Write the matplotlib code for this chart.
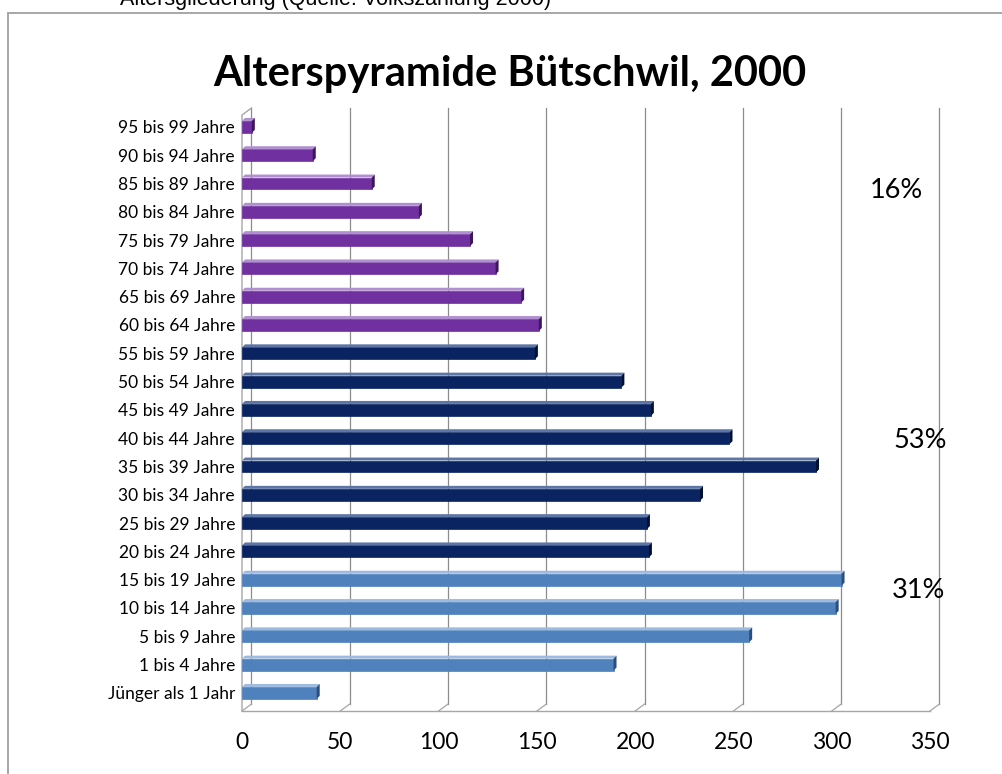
import matplotlib.pyplot as plt
from matplotlib.patches import Polygon, Rectangle

# Altersgruppen von unten nach oben
labels = ["Jünger als 1 Jahr", "1 bis 4 Jahre", "5 bis 9 Jahre", "10 bis 14 Jahre",
          "15 bis 19 Jahre", "20 bis 24 Jahre", "25 bis 29 Jahre", "30 bis 34 Jahre",
          "35 bis 39 Jahre", "40 bis 44 Jahre", "45 bis 49 Jahre", "50 bis 54 Jahre",
          "55 bis 59 Jahre", "60 bis 64 Jahre", "65 bis 69 Jahre", "70 bis 74 Jahre",
          "75 bis 79 Jahre", "80 bis 84 Jahre", "85 bis 89 Jahre", "90 bis 94 Jahre",
          "95 bis 99 Jahre"]
values = [38, 189, 258, 302, 305, 207, 206, 233, 292, 248, 208, 193,
          149, 151, 142, 129, 116, 90, 66, 36, 5]
groups = [0] * 5 + [1] * 8 + [2] * 8
shares = ["31%", "53%", "16%"]
xticks = [0, 50, 100, 150, 200, 250, 300, 350]

front = ["#4F81BD", "#0A2461", "#7030A0"]
top = ["#9DBBE0", "#5D76A6", "#B190CF"]
side = ["#2B4E7A", "#00102F", "#3D165C"]

W, H = 1003, 774
fig = plt.figure(figsize=(W / 100, H / 100), dpi=100)
fig.patch.set_facecolor("white")

# plot area: front plane 0 -> x=242px, 350 -> x=930px
y0, y1 = -0.64, 20.42
ax = fig.add_axes([242 / W, (H - 711) / H, 688 / W, 596 / H])
ax.set_xlim(0, 350)
ax.set_ylim(y0, y1)
for s in ax.spines.values():
    s.set_visible(False)

# pixel -> data offsets for the pseudo 3D look
px_x = 350 / 688
px_y = (y1 - y0) / 596
wdx, wdy = 9.5 * px_x, 7 * px_y
cdx, cdy = 3 * px_x, 3 * px_y

wall = "#A6A6A6"
grid = "#8C8C8C"
for t in xticks:
    ax.plot([t + wdx, t + wdx], [y0 + wdy, y1 + wdy], color=grid, lw=0.9, clip_on=False, zorder=1)
    ax.plot([t, t + wdx], [y0, y0 + wdy], color=wall, lw=0.9, clip_on=False, zorder=1)
ax.plot([0, 350], [y0, y0], color=wall, lw=1.0, clip_on=False, zorder=1)
ax.plot([0, 0, wdx], [y0, y1, y1 + wdy], color=wall, lw=1.0, clip_on=False, zorder=1)

h = 0.42
for i, v in enumerate(values):
    g = groups[i]
    ax.barh(i, v, height=h, color=front[g], edgecolor=front[g], lw=0.5, zorder=3)
    ax.add_patch(Polygon([(0, i + h / 2), (v, i + h / 2), (v + cdx, i + h / 2 + cdy),
                          (cdx, i + h / 2 + cdy)], closed=True, color=top[g], lw=0, zorder=3))
    ax.add_patch(Polygon([(v, i - h / 2), (v, i + h / 2), (v + cdx, i + h / 2 + cdy),
                          (v + cdx, i - h / 2 + cdy)], closed=True, color=side[g], lw=0, zorder=4))

ax.set_yticks(range(len(labels)))
ax.set_yticklabels(labels, fontsize=12.5, family="Lato")
ax.set_xticks(xticks)
ax.set_xticklabels([str(t) for t in xticks], fontsize=16.5, family="Lato")
ax.tick_params(axis="y", length=0, pad=5)
ax.tick_params(axis="x", length=0, pad=15)

# Anteile
fig.text(918 / W, 1 - 590 / H, shares[0], fontsize=19.5, family="Lato", ha="center", va="center")
fig.text(920 / W, 1 - 441 / H, shares[1], fontsize=19.5, family="Lato", ha="center", va="center")
fig.text(896 / W, 1 - 190 / H, shares[2], fontsize=19.5, family="Lato", ha="center", va="center")

fig.text(510 / W, 1 - 74 / H, "Alterspyramide Bütschwil, 2000", fontsize=30,
         family="Lato", fontweight="bold", ha="center", va="center")

# abgeschnittene Überschrift (wie im Original) und Rahmen
fig.text(120 / W, 1 - 5 / H, "Altersgliederung (Quelle: Volkszählung 2000)",
         fontsize=15.5, family="Liberation Sans", ha="left", va="baseline")
fig.patches.append(Rectangle((8 / W, -0.1), 1.2, 1.1 - 13 / H, transform=fig.transFigure,
                             fill=False, edgecolor="#A0A0A0", lw=1.3))

fig.savefig("out.png", dpi=100)
